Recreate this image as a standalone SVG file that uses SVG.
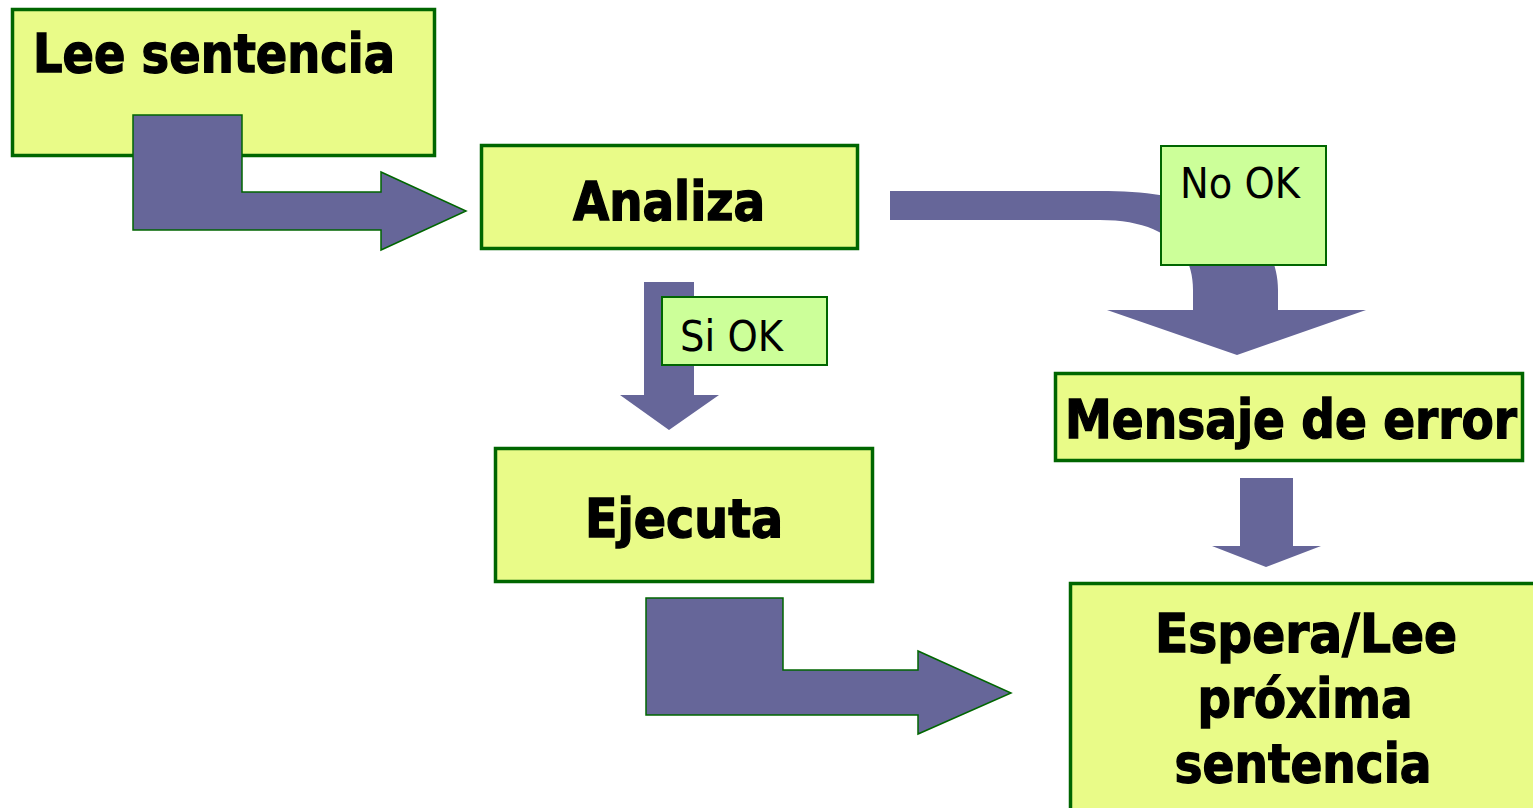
<svg xmlns="http://www.w3.org/2000/svg" width="1533" height="808" viewBox="0 0 1533 808">
<style>
.box{fill:#E9FB88;stroke:#006600;stroke-width:3.5}
.lbl{fill:#CCFF99;stroke:#006600;stroke-width:2}
.arr{fill:#666699}
.arrs{fill:#666699;stroke:#006600;stroke-width:1.5;stroke-linejoin:miter}
.t{font-family:"DejaVu Sans Condensed","DejaVu Sans",Verdana,sans-serif;font-weight:bold;font-size:54px;fill:#000;stroke:#000;stroke-width:1.3}
.r{font-family:"DejaVu Sans Condensed","DejaVu Sans",Verdana,sans-serif;font-size:43px;fill:#000}
</style>
<rect width="1533" height="808" fill="#ffffff"/>
<g id="lee">
<rect class="box" x="12.5" y="9.5" width="422" height="146"/>
<text class="t" x="33" y="72" textLength="362" lengthAdjust="spacingAndGlyphs">Lee sentencia</text>
</g>
<g id="analiza">
<rect class="box" x="481.5" y="145.5" width="376" height="103"/>
<text class="t" x="669" y="220" text-anchor="middle" textLength="192" lengthAdjust="spacingAndGlyphs">Analiza</text>
</g>
<g id="ejecuta">
<rect class="box" x="495.5" y="448.5" width="377" height="133"/>
<text class="t" x="684" y="537" text-anchor="middle" textLength="198" lengthAdjust="spacingAndGlyphs">Ejecuta</text>
</g>
<g id="mensaje">
<rect class="box" x="1055.5" y="373.5" width="467" height="87"/>
<text class="t" x="1291" y="438" text-anchor="middle" textLength="452" lengthAdjust="spacingAndGlyphs">Mensaje de error</text>
</g>
<g id="espera">
<rect class="box" x="1070.5" y="583.5" width="480" height="240"/>
<text class="t" x="1306" y="652" text-anchor="middle" textLength="302" lengthAdjust="spacingAndGlyphs">Espera/Lee</text>
<text class="t" x="1305" y="717" text-anchor="middle" textLength="215" lengthAdjust="spacingAndGlyphs">próxima</text>
<text class="t" x="1303" y="782" text-anchor="middle" textLength="257" lengthAdjust="spacingAndGlyphs">sentencia</text>
</g>
<g id="connectors">
<polygon class="arrs" points="133,115 242,115 242,192 381,192 381,172 466,211 381,250 381,230 133,230"/>
<path class="arr" d="M890,191 L1100,191 C1210,191 1278,225 1278,290 L1278,310 L1366,310 L1237,355 L1107,310 L1193,310 L1193,290 C1193,245 1160,220 1100,220 L890,220 Z"/>
<polygon class="arr" points="644,282 694,282 694,395 719,395 669,430 620,395 644,395"/>
<polygon class="arrs" points="646,598 783,598 783,670 918,670 918,651 1011,693 918,734 918,715 646,715"/>
<polygon class="arr" points="1240,478 1293,478 1293,546 1321,546 1266,567 1212,546 1240,546"/>
<g id="label-nook">
<rect class="lbl" x="1161" y="146" width="165" height="119"/>
<text class="r" x="1180" y="198" textLength="120" lengthAdjust="spacingAndGlyphs">No OK</text>
</g>
<g id="label-siok">
<rect class="lbl" x="662" y="297" width="165" height="68"/>
<text class="r" x="680" y="351" textLength="103" lengthAdjust="spacingAndGlyphs">Si OK</text>
</g>
</g>
</svg>
